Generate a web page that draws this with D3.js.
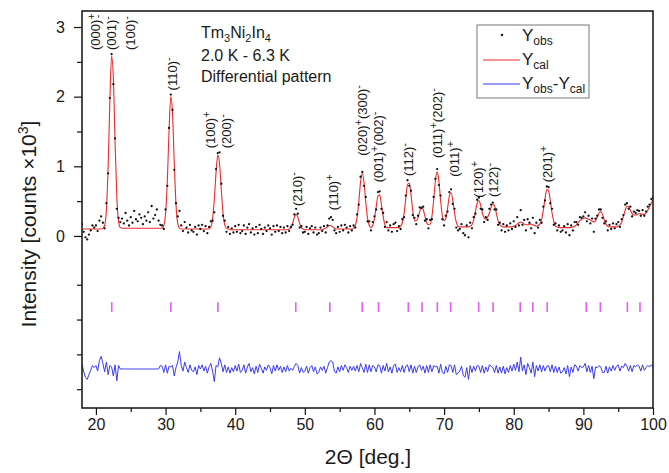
<!DOCTYPE html>
<html><head><meta charset="utf-8">
<script src="https://cdn.jsdelivr.net/npm/d3@7"></script>
<style>
body{margin:0;background:#fff}
text{font-family:Arial,"Liberation Sans",sans-serif;fill:#1a1a1a}
</style>
</head><body>
<svg id="c" width="669" height="473"></svg>
<script>
// ---- measurement grid (2Theta, deg.) ----
const angleStart = 18, angleStep = 0.25;

// ---- calculated pattern Ycal (x10^3 counts), one row per degree: 18.00, 18.25, 18.50, 18.75 ...
const yCal = [
 .10,.10,.10,.10,  .10,.10,.10,.10,  .10,.10,.10,.10,  .11,.15,.37,.98,
 1.93,2.58,2.28,1.34, .56,.21,.12,.11, .11,.11,.11,.11, .11,.11,.11,.11,
 .11,.11,.11,.11,  .11,.11,.11,.11,  .11,.11,.11,.11,  .11,.11,.11,.15,
 .32,.78,1.51,2.00, 1.76,1.05,.45,.18, .11,.10,.10,.10, .10,.10,.10,.10,
 .10,.10,.10,.10,  .10,.10,.10,.10,  .10,.10,.13,.25,  .52,.91,1.16,1.04,
 .67,.33,.16,.11,  .10,.09,.09,.09,  .09,.09,.09,.09,  .09,.09,.09,.09,
 .09,.09,.09,.09,  .09,.09,.09,.09,  .09,.09,.09,.09,  .09,.09,.09,.09,
 .09,.09,.09,.09,  .09,.09,.09,.10,  .12,.18,.27,.31,  .27,.18,.12,.10,
 .09,.09,.09,.09,  .09,.09,.09,.09,  .09,.09,.09,.10,  .11,.13,.15,.15,
 .13,.11,.10,.10,  .10,.10,.10,.10,  .10,.10,.10,.10,  .11,.15,.26,.49,
 .77,.90,.77,.49,  .26,.15,.12,.15,  .25,.42,.57,.59,  .45,.28,.16,.12,
 .12,.12,.12,.12,  .12,.12,.12,.14,  .19,.32,.54,.74,  .76,.59,.36,.22,
 .22,.26,.35,.42,  .38,.28,.19,.16,  .17,.28,.51,.79,  .92,.79,.51,.29,
 .22,.25,.40,.57,  .62,.51,.33,.20,  .14,.13,.13,.13,  .13,.13,.13,.14,
 .16,.23,.35,.47,  .51,.44,.33,.26,  .24,.27,.33,.41,  .46,.43,.33,.22,
 .16,.14,.13,.13,  .13,.13,.13,.13,  .14,.15,.17,.19,  .20,.19,.17,.16,
 .16,.17,.17,.16,  .15,.14,.15,.17,  .23,.37,.54,.67,  .65,.51,.33,.21,
 .14,.13,.12,.12,  .12,.12,.12,.12,  .12,.12,.13,.14,  .16,.19,.22,.24,
 .25,.26,.25,.24,  .23,.21,.20,.22,  .27,.33,.35,.31,  .23,.17,.14,.13,
 .13,.13,.13,.13,  .14,.16,.20,.28,  .37,.43,.42,.37,  .32,.30,.30,.31,
 .32,.32,.31,.31,  .33,.37,.42,.47,
 .52
];

// ---- observed pattern Yobs on the same grid
const yObs = [
 .17,.06,-.02,-.05, .02,.08,.15,.12,  .15,.07,.22,.28,  .19,.11,.47,.90,
 1.98,2.61,2.18,1.40, .39,.26,.20,.25, .18,.33,.22,.15, .27,.19,.36,.24,
 .21,.31,.26,.17,  .28,.22,.34,.20,  .43,.25,.30,.38,  .22,.16,.15,.10,
 .38,.72,1.55,2.03, 1.81,.95,.47,.28, .36,.15,.07,.20, .12,.05,.16,.08,
 .06,.13,.02,.15,  .10,.16,.07,.14,  .04,.13,.21,.22,  .34,.96,1.19,1.20,
 .75,.29,.22,.06,  .13,.03,.11,.05,  .14,.06,.16,.04,  .07,.15,.03,.12,
 .17,.05,.11,.02,  .13,.04,.16,.10,  .03,.12,.07,.15,  .11,.02,.14,.06,
 .15,.07,.13,.04,  .12,.05,.14,.07,  .13,.16,.31,.39,  .32,.12,.14,.05,
 .06,.13,.03,.11,  .14,.05,.12,.02,  .04,.12,.07,.14,  .05,.15,.25,.27,
 .23,.08,.04,.13,  .06,.15,.08,.16,  .12,.05,.14,.08,  .15,.12,.31,.45,
 .85,.92,.72,.56,  .21,.21,.08,.20,  .28,.38,.63,.64,  .39,.33,.13,.20,
 .08,.15,.06,.17,  .19,.07,.14,.10,  .24,.27,.58,.80,  .72,.65,.30,.26,
 .17,.29,.41,.40,  .42,.22,.24,.11,  .23,.24,.56,.82,  .96,.73,.58,.24,
 .15,.29,.35,.63,  .67,.46,.39,.12,  .08,.10,.17,.04,  .01,.15,-.02,.19,
 .11,.27,.32,.52,  .55,.39,.38,.20,  .27,.23,.39,.45,  .48,.38,.38,.16,
 .19,.08,.17,.06,  .15,.08,.18,.10,  .21,.13,.27,.15,  .37,.16,.23,.08,
 .24,.19,.11,.26,  .04,.19,.12,.23,  .19,.42,.51,.71,  .70,.47,.39,.16,
 .18,.08,.15,.06,  .08,.14,.05,.17,  .01,.15,.08,.20,  .20,.16,.27,.26,
 .28,.34,.21,.29,  .18,.25,.06,.25,  .29,.38,.38,.26,  .18,.21,.08,.16,
 .10,.18,.11,.17,  .20,.13,.24,.30,  .45,.47,.39,.42,  .28,.35,.33,.37,
 .36,.29,.37,.29,  .35,.42,.45,.53,
 .55
];

const diffOffset = -1.91;          // Yobs-Ycal curve is drawn shifted down
const excludedRange = [23.4, 29.2]; // region excluded from the refinement (flat difference)

// ---- Bragg reflection positions
const braggPositions = [22.27,30.76,37.52,48.70,53.59,58.24,60.58,64.86,66.83,69.03,70.94,
                        74.97,77.04,80.93,82.74,84.81,90.42,92.44,96.32,98.13];
const braggTickRange = [-0.95, -1.09];

// ---- peak labels (^ = superscript sign, _ = lowered sign)
const peakLabels  = ["(000)^+_-","(001)^-","(100)^-","(110)^-","(100)^+","(200)^-","(210)^-","(110)^+",
                     "(020)^+(300)^-","(001)^+(002)^-","(112)^-","(011)^+(202)^-","(011)^+","(120)^+","(122)^-","(201)^+"];
const labelAngles = [19.93,22.26,24.9,31.03,36.4,38.75,48.95,54.1,58.24,60.63,64.94,69.02,71.5,74.9,77.14,84.9];
const labelBases  = [2.67,2.67,2.67,2.09,1.26,1.26,0.43,0.37,1.15,0.77,0.86,1.12,0.85,0.55,0.56,0.77];

// ---- axes
const xDomain = [18, 100];
const yDomain = [-2.47, 3.23];
const xTicks = [20,30,40,50,60,70,80,90,100];
const xMinorTicks = [25,35,45,55,65,75,85,95];
const yTicks = [0,1,2,3];
const yMinorTicks = [2.5,1.5,0.5,-0.7,-1.2,-1.7,-2.2];

const legendLabels = ["obs","cal","obs-cal"];

// =====================================================
const svg = d3.select("#c");
const x = d3.scaleLinear().domain(xDomain).range([82, 653]);
const y = d3.scaleLinear().domain(yDomain).range([408, 11]);
const angles = yCal.map((_, i) => angleStart + i * angleStep);

svg.append("defs").append("clipPath").attr("id","clip")
  .append("rect").attr("x", x(xDomain[0])).attr("y", y(yDomain[1]))
  .attr("width", x(xDomain[1]) - x(xDomain[0])).attr("height", y(yDomain[0]) - y(yDomain[1]));

const plot = svg.append("g").attr("clip-path","url(#clip)");

// Bragg ticks
plot.selectAll("line.bragg").data(braggPositions).join("line").attr("class","bragg")
  .attr("x1", d => x(d)).attr("x2", d => x(d))
  .attr("y1", y(braggTickRange[0])).attr("y2", y(braggTickRange[1]))
  .attr("stroke", "#e35cf2").attr("stroke-width", 1.6);

// difference curve
const diffData = angles.map((a, i) => [a, (a > excludedRange[0] && a < excludedRange[1]) ? diffOffset : yObs[i] - yCal[i] + diffOffset]);
plot.append("path").datum(diffData)
  .attr("d", d3.line().x(d => x(d[0])).y(d => y(d[1])))
  .attr("fill","none").attr("stroke","#3b3bf2").attr("stroke-width",1);

// calculated
plot.append("path").datum(angles.map((a, i) => [a, yCal[i]]))
  .attr("d", d3.line().curve(d3.curveMonotoneX).x(d => x(d[0])).y(d => y(d[1])))
  .attr("fill","none").attr("stroke","#ee2a2a").attr("stroke-width",1.1);

// observed
plot.selectAll("circle.obs").data(angles.map((a, i) => [a, yObs[i]])).join("circle").attr("class","obs")
  .attr("cx", d => x(d[0])).attr("cy", d => y(d[1])).attr("r", 1.15).attr("fill","#111");

// frame
svg.append("rect").attr("x", x(xDomain[0])).attr("y", y(yDomain[1]))
  .attr("width", x(xDomain[1]) - x(xDomain[0])).attr("height", y(yDomain[0]) - y(yDomain[1]))
  .attr("fill","none").attr("stroke","#111").attr("stroke-width",1.5);

// x axis
const gx = svg.append("g").attr("transform", `translate(0,${y(yDomain[0])})`)
  .call(d3.axisBottom(x).tickValues(xTicks).tickSize(7).tickPadding(4).tickFormat(d3.format("d")));
gx.select(".domain").remove();
gx.selectAll("text").attr("font-size", 16).attr("font-family", "Arial, 'Liberation Sans', sans-serif");
gx.selectAll("line").attr("stroke","#111").attr("stroke-width",1.2);
const gxm = svg.append("g").attr("transform", `translate(0,${y(yDomain[0])})`)
  .call(d3.axisBottom(x).tickValues(xMinorTicks).tickSize(4).tickFormat(""));
gxm.select(".domain").remove();
gxm.selectAll("line").attr("stroke","#111").attr("stroke-width",1.2);

// y axis
const gy = svg.append("g").attr("transform", `translate(${x(xDomain[0])},0)`)
  .call(d3.axisLeft(y).tickValues(yTicks).tickSize(8).tickPadding(9).tickFormat(d3.format("d")));
gy.select(".domain").remove();
gy.selectAll("text").attr("font-size", 16).attr("font-family", "Arial, 'Liberation Sans', sans-serif");
gy.selectAll("line").attr("stroke","#111").attr("stroke-width",1.2);
const gym = svg.append("g").attr("transform", `translate(${x(xDomain[0])},0)`)
  .call(d3.axisLeft(y).tickValues(yMinorTicks).tickSize(5).tickFormat(""));
gym.select(".domain").remove();
gym.selectAll("line").attr("stroke","#111").attr("stroke-width",1.2);

// axis titles
svg.append("text").attr("x", 368).attr("y", 464).attr("text-anchor","middle").attr("font-size", 21)
  .text("2\u0398 [deg.]");
const yt = svg.append("text").attr("transform","translate(36,224) rotate(-90)")
  .attr("text-anchor","middle").attr("font-size", 21);
yt.append("tspan").text("Intensity [counts \u00d710");
yt.append("tspan").attr("dy",-8).attr("font-size",14).text("3");
yt.append("tspan").attr("dy",8).text("]");

// peak labels
function signChar(c){ return c === "-" ? "-" : "+"; }
peakLabels.forEach((lab, i) => {
  const t = svg.append("text")
    .attr("transform", `translate(${x(labelAngles[i]) + 4.5},${y(labelBases[i])}) rotate(-90)`)
    .attr("font-size", 13);
  let shift = 0;
  lab.match(/(\^.|_.|[^^_]+)/g).forEach(tok => {
    if (tok[0] === "^") {
      t.append("tspan").attr("dy", -5 - shift).attr("font-size", 11).text(signChar(tok[1])); shift = -5;
    } else if (tok[0] === "_") {
      t.append("tspan").attr("dx", -5).attr("dy", 1 - shift).attr("font-size", 11).text(signChar(tok[1])); shift = 1;
    } else {
      t.append("tspan").attr("dy", -shift).text(tok); shift = 0;
    }
  });
});

// sample annotation
const ann = svg.append("g").attr("font-size", 16);
const a1 = ann.append("text").attr("x", 201).attr("y", 38);
a1.append("tspan").text("Tm");
a1.append("tspan").attr("dy",4).attr("font-size",11).text("3");
a1.append("tspan").attr("dy",-4).text("Ni");
a1.append("tspan").attr("dy",4).attr("font-size",11).text("2");
a1.append("tspan").attr("dy",-4).text("In");
a1.append("tspan").attr("dy",4).attr("font-size",11).text("4");
ann.append("text").attr("x", 201).attr("y", 61).text("2.0 K - 6.3 K");
ann.append("text").attr("x", 201).attr("y", 82).text("Differential pattern");

// legend
const lg = svg.append("g");
lg.append("rect").attr("x", 477).attr("y", 25).attr("width", 112).attr("height", 73)
  .attr("fill","#fff").attr("stroke","#777").attr("stroke-width",1);
lg.append("circle").attr("cx", 502).attr("cy", 35).attr("r", 1.2).attr("fill","#111");
lg.append("line").attr("x1", 483).attr("x2", 520).attr("y1", 60).attr("y2", 60).attr("stroke","#ee2a2a").attr("stroke-width",1.1);
lg.append("line").attr("x1", 483).attr("x2", 520).attr("y1", 84).attr("y2", 84).attr("stroke","#3b3bf2").attr("stroke-width",1.1);
const legY = [41, 65, 89];
legendLabels.forEach((lab, i) => {
  const t = lg.append("text").attr("x", 522).attr("y", legY[i]).attr("font-size", 17);
  const parts = lab.split("-");
  parts.forEach((p, j) => {
    if (j > 0) t.append("tspan").attr("dy", -4).text("-");
    t.append("tspan").text("Y");
    t.append("tspan").attr("dy", 4).attr("font-size", 12).text(p);
  });
});
</script>
</body></html>
